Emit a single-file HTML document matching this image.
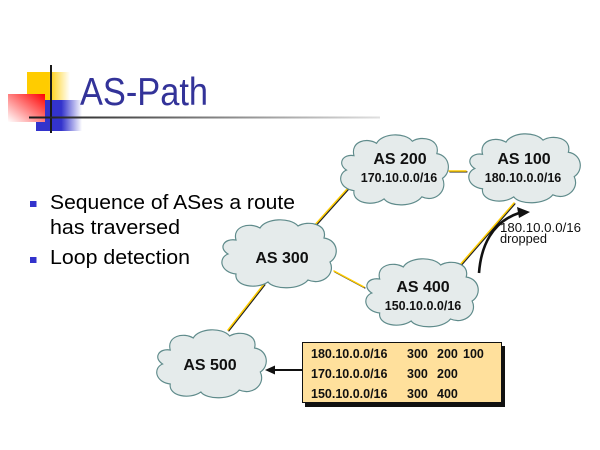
<!DOCTYPE html>
<html><head><meta charset="utf-8"><style>
html,body{margin:0;padding:0;background:#fff;}
svg{display:block;}
</style></head><body>
<svg width="600" height="450" viewBox="0 0 600 450" xmlns="http://www.w3.org/2000/svg">
<defs>
<linearGradient id="gy" x1="0" y1="0" x2="1" y2="0"><stop offset="0" stop-color="#FFCC00"/><stop offset="0.5" stop-color="#FFCC00"/><stop offset="1" stop-color="#FFFFFF"/></linearGradient>
<linearGradient id="gb" x1="0" y1="0" x2="1" y2="0"><stop offset="0" stop-color="#3333CC"/><stop offset="0.55" stop-color="#3333CC"/><stop offset="1" stop-color="#FFFFFF"/></linearGradient>
<linearGradient id="gr" x1="1" y1="0" x2="0" y2="1"><stop offset="0" stop-color="#FF0000"/><stop offset="1" stop-color="#FFFFFF"/></linearGradient>
<linearGradient id="gl" x1="0" y1="0" x2="1" y2="0"><stop offset="0" stop-color="#1a1a1a"/><stop offset="0.3" stop-color="#555"/><stop offset="1" stop-color="#e0e0e0"/></linearGradient>
<path id="cloud" d="M18,22 C14,8 32,4 42,10 C48,0 72,-1 80,8 C90,2 110,6 106,20 C120,22 122,38 112,44 C118,56 104,68 90,62 C82,72 56,72 50,64 C38,72 16,68 18,56 C2,54 0,40 10,36 C0,30 6,20 18,22 Z"/>
</defs>

<!-- title decoration -->
<rect x="27" y="72" width="43" height="29" fill="url(#gy)"/>
<rect x="36" y="100" width="46" height="31" fill="url(#gb)"/>
<rect x="8" y="94" width="37" height="28" fill="url(#gr)"/>
<rect x="50" y="65" width="2" height="68" fill="#1a1a1a"/>
<rect x="29" y="116.5" width="351" height="2" fill="url(#gl)"/>

<text x="80" y="105" font-family="Liberation Sans, sans-serif" font-size="39" fill="#333399" textLength="128" lengthAdjust="spacingAndGlyphs">AS-Path</text>

<!-- bullets -->
<rect x="30" y="201" width="6.5" height="6" fill="#3333CC"/>
<rect x="30" y="257" width="6.5" height="6" fill="#3333CC"/>
<g font-family="Liberation Sans, sans-serif" font-size="20" fill="#000">
<text x="50" y="209" textLength="245" lengthAdjust="spacingAndGlyphs">Sequence of ASes a route</text>
<text x="50" y="234" textLength="130" lengthAdjust="spacingAndGlyphs">has traversed</text>
<text x="50" y="264" textLength="140" lengthAdjust="spacingAndGlyphs">Loop detection</text>
</g>

<!-- links -->
<g stroke-linecap="round">
<g stroke="#222" stroke-width="1.3" transform="translate(0.9,0.9)">
<line x1="313" y1="227" x2="348" y2="188"/>
<line x1="334" y1="271" x2="364" y2="287"/>
<line x1="264" y1="284" x2="228" y2="330"/>
<line x1="459" y1="266" x2="514" y2="203"/>
<line x1="449" y1="171" x2="466" y2="171"/>
</g>
<g stroke="#FFCC00" stroke-width="1.5">
<line x1="313" y1="227" x2="348" y2="188"/>
<line x1="334" y1="271" x2="364" y2="287"/>
<line x1="264" y1="284" x2="228" y2="330"/>
<line x1="459" y1="266" x2="514" y2="203"/>
<line x1="449" y1="171" x2="466" y2="171"/>
</g>
</g>

<!-- clouds -->
<g fill="#E5EBEB" stroke="#5F8B8B" stroke-width="1.2">
<use href="#cloud" transform="translate(337,133) scale(0.942,1.03)" vector-effect="non-scaling-stroke"/>
<use href="#cloud" transform="translate(465,132) scale(0.975,1.014)"/>
<use href="#cloud" transform="translate(218,218) scale(1,1)"/>
<use href="#cloud" transform="translate(362,257) scale(0.983,1)"/>
<use href="#cloud" transform="translate(153,328) scale(0.958,1)"/>
</g>

<g font-family="Liberation Sans, sans-serif" font-weight="bold" fill="#111" text-anchor="middle">
<text x="400" y="164" font-size="16">AS 200</text>
<text x="399" y="182" font-size="12.5">170.10.0.0/16</text>
<text x="524" y="164" font-size="16">AS 100</text>
<text x="523" y="182" font-size="12.5">180.10.0.0/16</text>
<text x="282" y="263" font-size="16">AS 300</text>
<text x="423" y="292" font-size="16">AS 400</text>
<text x="423" y="310" font-size="12.5">150.10.0.0/16</text>
<text x="210" y="370" font-size="16">AS 500</text>
</g>

<!-- dropped arrow -->
<path d="M479,273 C481,246 492,222 519,213" fill="none" stroke="#111" stroke-width="2.6"/>
<path d="M530,212 L517,207 L519,218 Z" fill="#111"/>
<g font-family="Liberation Sans, sans-serif" font-size="12.5" fill="#111">
<text x="500" y="232" textLength="81" lengthAdjust="spacingAndGlyphs">180.10.0.0/16</text>
<text x="500" y="243" textLength="47" lengthAdjust="spacingAndGlyphs">dropped</text>
</g>

<!-- table box -->
<rect x="305" y="346" width="200" height="61" fill="#111"/>
<rect x="302.5" y="342.5" width="199" height="60" fill="#FFE09C" stroke="#111" stroke-width="1"/>
<g font-family="Liberation Sans, sans-serif" font-weight="bold" font-size="12.5" fill="#111">
<text x="311" y="358">180.10.0.0/16</text><text x="407" y="358">300</text><text x="437" y="358">200</text><text x="463" y="358">100</text>
<text x="311" y="378">170.10.0.0/16</text><text x="407" y="378">300</text><text x="437" y="378">200</text>
<text x="311" y="398">150.10.0.0/16</text><text x="407" y="398">300</text><text x="437" y="398">400</text>
</g>

<!-- arrow to AS500 -->
<line x1="302" y1="370" x2="272" y2="370" stroke="#111" stroke-width="2"/>
<path d="M265,370 L275,365.5 L275,374.5 Z" fill="#111"/>
</svg>
</body></html>
